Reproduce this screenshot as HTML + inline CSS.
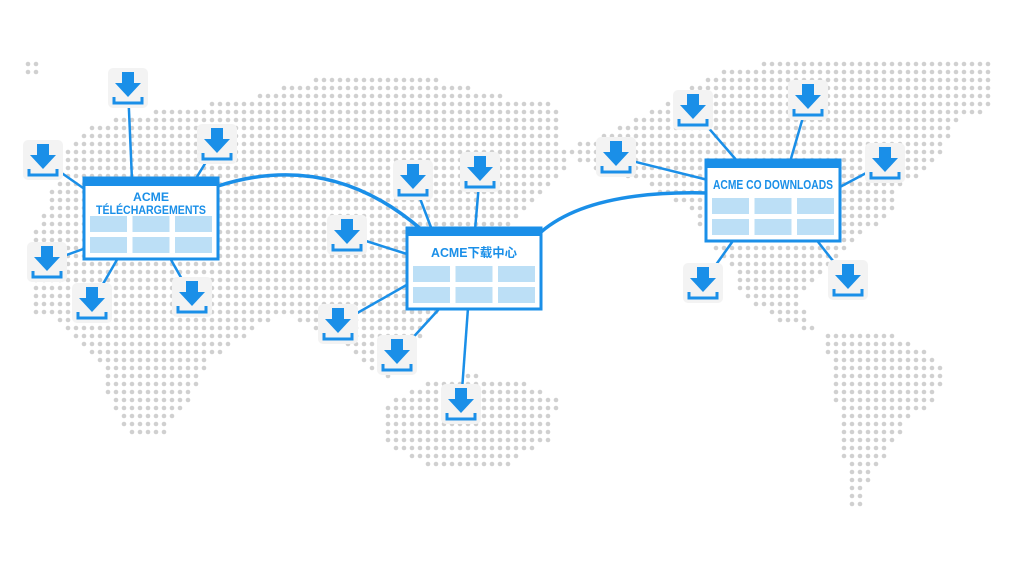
<!DOCTYPE html>
<html><head><meta charset="utf-8"><style>
html,body{margin:0;padding:0;background:#fff;width:1024px;height:576px;overflow:hidden}
svg{display:block}
text{font-family:"Liberation Sans","Noto Sans CJK SC",sans-serif;font-weight:bold;fill:#1a8fe8}
</style></head><body>
<svg id="s" width="1024" height="576" viewBox="0 0 1024 576" xmlns="http://www.w3.org/2000/svg">
<g id="dots" fill="#d0d0d0"></g>
<g id="lines" stroke="#1a8fe8" stroke-width="2.5" fill="none"></g>
<g id="icons"></g>
<g id="boxes"></g>
</svg>
<script>
var NS="http://www.w3.org/2000/svg";
function el(t,a,p){var e=document.createElementNS(NS,t);for(var k in a)e.setAttribute(k,a[k]);p.appendChild(e);return e;}
var polys=[
[[90,125],[160,110],[240,100],[330,75],[420,75],[500,95],[560,105],[565,170],[540,200],[510,230],[480,260],[460,290],[440,310],[420,340],[390,380],[370,370],[340,340],[300,320],[270,320],[240,340],[210,360],[190,400],[160,440],[130,440],[110,400],[100,360],[60,320],[30,310],[28,250],[50,200],[60,160]],
[[380,410],[420,385],[470,375],[520,380],[560,400],[550,440],[500,470],[440,470],[390,450]],
[[600,135],[650,110],[720,70],[800,57],[870,55],[930,58],[995,58],[995,110],[960,120],[940,160],[900,190],[890,215],[870,230],[850,250],[840,260],[820,280],[800,300],[820,335],[780,320],[750,300],[740,290],[730,260],[710,250],[700,230],[690,210],[660,195],[640,180],[600,170],[560,150]],
[[825,335],[880,330],[915,345],[950,370],[935,400],[910,420],[890,450],[870,480],[855,520],[845,470],[840,420],[830,370]],
[[26,62],[44,62],[44,74],[26,74]]
];
function inside(x,y,p){var c=false;for(var i=0,j=p.length-1;i<p.length;j=i++){var xi=p[i][0],yi=p[i][1],xj=p[j][0],yj=p[j][1];if(((yi>y)!=(yj>y))&&(x<(xj-xi)*(y-yi)/(yj-yi)+xi))c=!c;}return c;}
var D=document.getElementById("dots");
for(var y=64;y<530;y+=8)for(var x=28;x<1000;x+=8){for(var k=0;k<polys.length;k++){if(inside(x,y,polys[k])){el("circle",{cx:x,cy:y,r:2.3},D);break;}}}
var L=document.getElementById("lines");
var boxes=[[84,178,"L"],[407,228,"M"],[706,160,"R"]];
var icons=[[128,88,132,180],[217,144,195,180],[43,160,86,190],[47,262,86,248],[92,303,118,258],[192,297,170,258],
[413,180,432,230],[480,172,475,230],[347,235,410,255],[338,324,410,283],[397,355,440,308],[461,404,468,308],
[616,157,708,180],[693,110,738,162],[808,100,790,162],[885,163,838,188],[703,283,735,238],[848,280,815,238]];
icons.forEach(function(i){el("line",{x1:i[0],y1:i[1],x2:i[2],y2:i[3]},L);});
el("path",{d:"M218,186 Q330,150 422,230","stroke-width":3.5},L);
el("path",{d:"M541,232 Q590,190 708,193","stroke-width":3.5},L);
var I=document.getElementById("icons");
icons.forEach(function(i){var x=i[0],y=i[1];
el("rect",{x:x-20,y:y-20,width:40,height:40,rx:5,fill:"#f3f3f3"},I);
el("rect",{x:x-6,y:y-16,width:12,height:12,fill:"#1a8fe8"},I);
el("polygon",{points:(x-13)+","+(y-5)+" "+(x+13)+","+(y-5)+" "+x+","+(y+9),fill:"#1a8fe8"},I);
el("path",{d:"M"+(x-14)+","+(y+9)+" V"+(y+15)+" H"+(x+14)+" V"+(y+9),stroke:"#1a8fe8","stroke-width":3,fill:"none"},I);
});
var B=document.getElementById("boxes");
var labels={L:["ACME","TÉLÉCHARGEMENTS"],M:["ACME下载中心"],R:["ACME CO DOWNLOADS"]};
boxes.forEach(function(b){var x=b[0],y=b[1],w=134,h=81;
el("rect",{x:x,y:y,width:w,height:h,fill:"#fff",stroke:"#1a8fe8","stroke-width":3},B);
el("rect",{x:x,y:y,width:w,height:8,fill:"#1a8fe8"},B);
var lb=labels[b[2]];
if(lb.length==2){var t=el("text",{x:x+w/2,y:y+23,"text-anchor":"middle","font-size":12,textLength:36,lengthAdjust:"spacingAndGlyphs"},B);t.textContent=lb[0];
var t2=el("text",{x:x+w/2,y:y+36,"text-anchor":"middle","font-size":12,textLength:110,lengthAdjust:"spacingAndGlyphs"},B);t2.textContent=lb[1];}
else if(b[2]=="R"){var t4=el("text",{x:x+w/2,y:y+29,"text-anchor":"middle","font-size":12.5,textLength:120,lengthAdjust:"spacingAndGlyphs"},B);t4.textContent=lb[0];}
else{var t3=el("text",{x:x+w/2,y:y+29,"text-anchor":"middle","font-size":12.5,textLength:86,lengthAdjust:"spacingAndGlyphs"},B);t3.textContent=lb[0];}
for(var r=0;r<2;r++)for(var c=0;c<3;c++)el("rect",{x:x+6+c*42.5,y:y+38+r*21,width:37,height:16,fill:"#bcdff6"},B);
});
</script>
</body></html>
